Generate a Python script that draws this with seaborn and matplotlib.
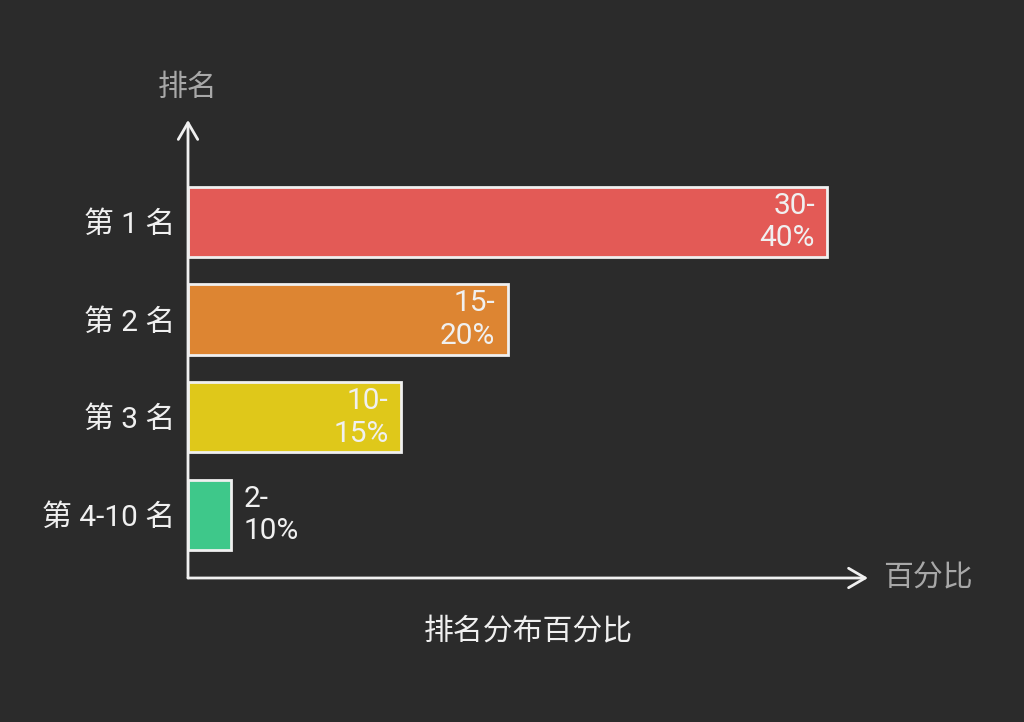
import matplotlib
matplotlib.use("Agg")
import matplotlib.pyplot as plt
import seaborn as sns
import pandas as pd

# data
ranks = ["第 1 名", "第 2 名", "第 3 名", "第 4-10 名"]
share_low = [30, 15, 10, 2]
share_labels = ["30-\n40%", "15-\n20%", "10-\n15%", "2-\n10%"]
bar_colors = ["#e35a56", "#dd8532", "#dfc81a", "#3ec88a"]

BG = "#2b2b2b"
FG = "#f0f0f0"
MUTED = "#a8a8a8"
FS = 21.5

sns.set_theme(style="dark")
plt.rcParams["font.family"] = ["Roboto", "Noto Sans CJK SC", "DejaVu Sans"]

df = pd.DataFrame({"rank": ranks, "share": share_low})

fig = plt.figure(figsize=(10.24, 7.22), dpi=100, facecolor=BG)
ax = fig.add_axes([188 / 1024, 144 / 722, 680 / 1024, 458 / 722])
ax.set_facecolor(BG)

sns.barplot(
    data=df, y="rank", x="share", hue="rank", palette=bar_colors,
    orient="h", width=0.72, edgecolor=FG, linewidth=2, legend=False,
    saturation=1, ax=ax,
)

ax.set_xlim(0, 31.9)
ax.set_ylim(3.645, -1.044)

for i, (v, lab) in enumerate(zip(share_low, share_labels)):
    if v < 5:
        ax.annotate(lab, xy=(v, i), xytext=(9, 0), textcoords="offset points",
                    ha="left", va="center", color=FG, fontsize=FS,
                    linespacing=1.22)
    else:
        ax.annotate(lab, xy=(v, i), xytext=(-9, 0), textcoords="offset points",
                    ha="right", va="center", color=FG, fontsize=FS,
                    linespacing=1.22)

# axes drawn as arrows
for s in ax.spines.values():
    s.set_visible(False)
ax.grid(False)
ax.set_xticks([])
ax.tick_params(axis="y", length=0, pad=9, labelsize=FS, labelcolor=FG)
ax.set_ylabel("")
ax.set_xlabel("")

arrow = dict(arrowstyle="->, head_width=0.35, head_length=0.6", color=FG,
             lw=2, mutation_scale=20, shrinkA=0, shrinkB=0)
ax.annotate("", xy=(0, 1), xytext=(0, 0), xycoords="axes fraction",
            arrowprops=arrow, annotation_clip=False)
ax.annotate("", xy=(1, 0), xytext=(0, 0), xycoords="axes fraction",
            arrowprops=arrow, annotation_clip=False)

ax.text(0, 1.07, "排名", transform=ax.transAxes, ha="center", va="center",
        color=MUTED, fontsize=FS)
ax.text(1.022, 0, "百分比", transform=ax.transAxes, ha="left", va="center",
        color=MUTED, fontsize=FS)
ax.text(0.5, -54 / 458, "排名分布百分比", transform=ax.transAxes,
        ha="center", va="center", color=FG, fontsize=FS)

fig.savefig("out.png", dpi=100, facecolor=BG)
plt.close(fig)
